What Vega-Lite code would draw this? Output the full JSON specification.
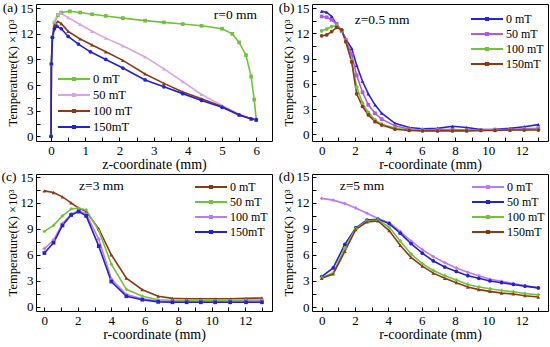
{
  "$schema": "https://vega.github.io/schema/vega-lite/v6.json",
  "padding": {"left": 1, "top": 0, "right": 0, "bottom": 0},
  "background": "white",
  "config": {
    "font": "Liberation Serif",
    "view": {"stroke": "black", "strokeWidth": 1},
    "axis": {"labelFont": "Liberation Serif", "titleFont": "Liberation Serif", "labelColor": "black", "titleColor": "black", "tickColor": "black", "grid": false, "domain": false, "tickSize": -4, "labelFontSize": 13, "titleFontWeight": "normal", "labelFontWeight": "normal"},
    "axisX": {"labelPadding": 7, "titlePadding": 0, "titleFontSize": 14, "labelFlush": false},
    "axisY": {"labelPadding": 7, "titlePadding": 1, "titleFontSize": 12.5, "labelFlush": false},
    "legend": {"labelFont": "Liberation Serif", "labelColor": "black"},
    "point": {"filled": true, "size": 14, "opacity": 1, "strokeWidth": 0}
  },
  "datasets": {
    "a": [
      {"x":0,"y":0,"B":"0 mT"},{"x":0.01,"y":8.5,"B":"0 mT"},{"x":0.04,"y":11.6,"B":"0 mT"},{"x":0.1,"y":13.3,"B":"0 mT"},{"x":0.2,"y":14.2,"B":"0 mT"},{"x":0.3,"y":14.5,"B":"0 mT"},{"x":0.55,"y":14.65,"B":"0 mT"},{"x":0.85,"y":14.5,"B":"0 mT"},{"x":1.2,"y":14.3,"B":"0 mT"},{"x":1.6,"y":14.1,"B":"0 mT"},{"x":2.1,"y":13.85,"B":"0 mT"},{"x":2.75,"y":13.55,"B":"0 mT"},{"x":3.3,"y":13.35,"B":"0 mT"},{"x":3.85,"y":13.15,"B":"0 mT"},{"x":4.4,"y":12.95,"B":"0 mT"},{"x":5.0,"y":12.6,"B":"0 mT"},{"x":5.3,"y":12.0,"B":"0 mT"},{"x":5.5,"y":11.0,"B":"0 mT"},{"x":5.7,"y":9.5,"B":"0 mT"},{"x":5.85,"y":7.0,"B":"0 mT"},{"x":5.94,"y":4.3,"B":"0 mT"},{"x":6.0,"y":1.95,"B":"0 mT"},
      {"x":0,"y":0,"B":"50 mT"},{"x":0.01,"y":8.5,"B":"50 mT"},{"x":0.04,"y":11.6,"B":"50 mT"},{"x":0.1,"y":13.5,"B":"50 mT"},{"x":0.2,"y":14.3,"B":"50 mT"},{"x":0.28,"y":14.45,"B":"50 mT"},{"x":0.5,"y":13.9,"B":"50 mT"},{"x":0.85,"y":13.1,"B":"50 mT"},{"x":1.2,"y":12.3,"B":"50 mT"},{"x":1.6,"y":11.5,"B":"50 mT"},{"x":2.1,"y":10.6,"B":"50 mT"},{"x":2.75,"y":9.3,"B":"50 mT"},{"x":3.3,"y":7.9,"B":"50 mT"},{"x":3.85,"y":6.4,"B":"50 mT"},{"x":4.4,"y":4.9,"B":"50 mT"},{"x":5.0,"y":3.6,"B":"50 mT"},{"x":5.5,"y":2.6,"B":"50 mT"},{"x":5.85,"y":2.05,"B":"50 mT"},{"x":6.0,"y":1.9,"B":"50 mT"},
      {"x":0,"y":0,"B":"100 mT"},{"x":0.01,"y":8.5,"B":"100 mT"},{"x":0.04,"y":11.6,"B":"100 mT"},{"x":0.1,"y":13.0,"B":"100 mT"},{"x":0.2,"y":13.45,"B":"100 mT"},{"x":0.3,"y":13.2,"B":"100 mT"},{"x":0.5,"y":12.3,"B":"100 mT"},{"x":0.85,"y":11.4,"B":"100 mT"},{"x":1.2,"y":10.7,"B":"100 mT"},{"x":1.6,"y":9.9,"B":"100 mT"},{"x":2.1,"y":8.9,"B":"100 mT"},{"x":2.75,"y":7.3,"B":"100 mT"},{"x":3.3,"y":6.2,"B":"100 mT"},{"x":3.85,"y":5.2,"B":"100 mT"},{"x":4.4,"y":4.4,"B":"100 mT"},{"x":5.0,"y":3.5,"B":"100 mT"},{"x":5.5,"y":2.5,"B":"100 mT"},{"x":5.85,"y":2.05,"B":"100 mT"},{"x":6.0,"y":1.9,"B":"100 mT"},
      {"x":0,"y":0,"B":"150mT"},{"x":0.01,"y":8.5,"B":"150mT"},{"x":0.04,"y":11.6,"B":"150mT"},{"x":0.1,"y":12.6,"B":"150mT"},{"x":0.17,"y":12.9,"B":"150mT"},{"x":0.3,"y":12.6,"B":"150mT"},{"x":0.5,"y":11.7,"B":"150mT"},{"x":0.8,"y":10.8,"B":"150mT"},{"x":1.15,"y":9.9,"B":"150mT"},{"x":1.6,"y":9.0,"B":"150mT"},{"x":2.1,"y":8.0,"B":"150mT"},{"x":2.75,"y":6.6,"B":"150mT"},{"x":3.3,"y":5.8,"B":"150mT"},{"x":3.85,"y":5.0,"B":"150mT"},{"x":4.4,"y":4.2,"B":"150mT"},{"x":5.0,"y":3.4,"B":"150mT"},{"x":5.5,"y":2.5,"B":"150mT"},{"x":5.85,"y":2.05,"B":"150mT"},{"x":6.0,"y":1.95,"B":"150mT"}
    ],
    "b": [
      {"x":0,"y":14.6,"B":"0 mT"},{"x":0.3,"y":14.5,"B":"0 mT"},{"x":0.6,"y":14.0,"B":"0 mT"},{"x":0.9,"y":13.0,"B":"0 mT"},{"x":1.2,"y":12.3,"B":"0 mT"},{"x":1.45,"y":11.3,"B":"0 mT"},{"x":1.8,"y":10.2,"B":"0 mT"},{"x":2.1,"y":8.2,"B":"0 mT"},{"x":2.45,"y":6.3,"B":"0 mT"},{"x":2.8,"y":4.8,"B":"0 mT"},{"x":3.2,"y":3.5,"B":"0 mT"},{"x":3.6,"y":2.5,"B":"0 mT"},{"x":4.4,"y":1.3,"B":"0 mT"},{"x":5.25,"y":0.8,"B":"0 mT"},{"x":6.05,"y":0.65,"B":"0 mT"},{"x":6.95,"y":0.7,"B":"0 mT"},{"x":7.85,"y":0.95,"B":"0 mT"},{"x":8.7,"y":0.8,"B":"0 mT"},{"x":9.55,"y":0.55,"B":"0 mT"},{"x":10.4,"y":0.6,"B":"0 mT"},{"x":11.3,"y":0.7,"B":"0 mT"},{"x":12.15,"y":0.9,"B":"0 mT"},{"x":13.0,"y":1.15,"B":"0 mT"},
      {"x":0,"y":14.0,"B":"50 mT"},{"x":0.3,"y":13.9,"B":"50 mT"},{"x":0.6,"y":13.6,"B":"50 mT"},{"x":0.9,"y":13.1,"B":"50 mT"},{"x":1.2,"y":12.3,"B":"50 mT"},{"x":1.45,"y":11.2,"B":"50 mT"},{"x":1.8,"y":9.5,"B":"50 mT"},{"x":2.1,"y":7.0,"B":"50 mT"},{"x":2.45,"y":5.0,"B":"50 mT"},{"x":2.8,"y":3.5,"B":"50 mT"},{"x":3.2,"y":2.5,"B":"50 mT"},{"x":3.6,"y":1.8,"B":"50 mT"},{"x":4.4,"y":1.0,"B":"50 mT"},{"x":5.25,"y":0.6,"B":"50 mT"},{"x":6.05,"y":0.5,"B":"50 mT"},{"x":6.95,"y":0.55,"B":"50 mT"},{"x":7.85,"y":0.55,"B":"50 mT"},{"x":8.7,"y":0.5,"B":"50 mT"},{"x":9.55,"y":0.5,"B":"50 mT"},{"x":10.4,"y":0.55,"B":"50 mT"},{"x":11.3,"y":0.55,"B":"50 mT"},{"x":12.15,"y":0.65,"B":"50 mT"},{"x":13.0,"y":0.7,"B":"50 mT"},
      {"x":0,"y":12.3,"B":"100 mT"},{"x":0.3,"y":12.5,"B":"100 mT"},{"x":0.6,"y":12.8,"B":"100 mT"},{"x":0.9,"y":12.9,"B":"100 mT"},{"x":1.2,"y":12.3,"B":"100 mT"},{"x":1.45,"y":11.0,"B":"100 mT"},{"x":1.8,"y":8.8,"B":"100 mT"},{"x":2.1,"y":5.6,"B":"100 mT"},{"x":2.45,"y":3.7,"B":"100 mT"},{"x":2.8,"y":2.6,"B":"100 mT"},{"x":3.2,"y":1.7,"B":"100 mT"},{"x":3.6,"y":1.2,"B":"100 mT"},{"x":4.4,"y":0.75,"B":"100 mT"},{"x":5.25,"y":0.5,"B":"100 mT"},{"x":6.05,"y":0.45,"B":"100 mT"},{"x":6.95,"y":0.45,"B":"100 mT"},{"x":7.85,"y":0.45,"B":"100 mT"},{"x":8.7,"y":0.45,"B":"100 mT"},{"x":9.55,"y":0.45,"B":"100 mT"},{"x":10.4,"y":0.5,"B":"100 mT"},{"x":11.3,"y":0.5,"B":"100 mT"},{"x":12.15,"y":0.55,"B":"100 mT"},{"x":13.0,"y":0.6,"B":"100 mT"},
      {"x":0,"y":11.7,"B":"150mT"},{"x":0.3,"y":11.8,"B":"150mT"},{"x":0.6,"y":12.2,"B":"150mT"},{"x":0.9,"y":12.7,"B":"150mT"},{"x":1.2,"y":12.4,"B":"150mT"},{"x":1.45,"y":11.0,"B":"150mT"},{"x":1.8,"y":8.6,"B":"150mT"},{"x":2.1,"y":4.8,"B":"150mT"},{"x":2.45,"y":3.3,"B":"150mT"},{"x":2.8,"y":2.3,"B":"150mT"},{"x":3.2,"y":1.5,"B":"150mT"},{"x":3.6,"y":1.1,"B":"150mT"},{"x":4.4,"y":0.6,"B":"150mT"},{"x":5.25,"y":0.45,"B":"150mT"},{"x":6.05,"y":0.4,"B":"150mT"},{"x":6.95,"y":0.4,"B":"150mT"},{"x":7.85,"y":0.4,"B":"150mT"},{"x":8.7,"y":0.4,"B":"150mT"},{"x":9.55,"y":0.45,"B":"150mT"},{"x":10.4,"y":0.45,"B":"150mT"},{"x":11.3,"y":0.5,"B":"150mT"},{"x":12.15,"y":0.5,"B":"150mT"},{"x":13.0,"y":0.5,"B":"150mT"}
    ],
    "c": [
      {"x":0,"y":13.4,"B":"0 mT"},{"x":0.55,"y":13.2,"B":"0 mT"},{"x":1.08,"y":12.7,"B":"0 mT"},{"x":1.6,"y":12.0,"B":"0 mT"},{"x":2.05,"y":11.4,"B":"0 mT"},{"x":2.5,"y":11.0,"B":"0 mT"},{"x":3.25,"y":9.0,"B":"0 mT"},{"x":4.0,"y":6.0,"B":"0 mT"},{"x":4.9,"y":3.3,"B":"0 mT"},{"x":5.85,"y":1.95,"B":"0 mT"},{"x":6.8,"y":1.2,"B":"0 mT"},{"x":7.65,"y":0.95,"B":"0 mT"},{"x":8.5,"y":0.9,"B":"0 mT"},{"x":9.35,"y":0.9,"B":"0 mT"},{"x":10.2,"y":0.9,"B":"0 mT"},{"x":11.1,"y":0.9,"B":"0 mT"},{"x":12.05,"y":0.95,"B":"0 mT"},{"x":13.0,"y":1.0,"B":"0 mT"},
      {"x":0,"y":8.7,"B":"50 mT"},{"x":0.55,"y":9.4,"B":"50 mT"},{"x":1.08,"y":10.5,"B":"50 mT"},{"x":1.6,"y":11.3,"B":"50 mT"},{"x":2.05,"y":11.4,"B":"50 mT"},{"x":2.5,"y":11.2,"B":"50 mT"},{"x":3.25,"y":8.8,"B":"50 mT"},{"x":4.0,"y":4.9,"B":"50 mT"},{"x":4.9,"y":2.0,"B":"50 mT"},{"x":5.85,"y":1.2,"B":"50 mT"},{"x":6.8,"y":0.8,"B":"50 mT"},{"x":7.65,"y":0.7,"B":"50 mT"},{"x":8.5,"y":0.7,"B":"50 mT"},{"x":9.35,"y":0.7,"B":"50 mT"},{"x":10.2,"y":0.7,"B":"50 mT"},{"x":11.1,"y":0.7,"B":"50 mT"},{"x":12.05,"y":0.75,"B":"50 mT"},{"x":13.0,"y":0.75,"B":"50 mT"},
      {"x":0,"y":6.7,"B":"100 mT"},{"x":0.55,"y":7.7,"B":"100 mT"},{"x":1.08,"y":9.6,"B":"100 mT"},{"x":1.6,"y":10.7,"B":"100 mT"},{"x":2.05,"y":11.1,"B":"100 mT"},{"x":2.5,"y":10.7,"B":"100 mT"},{"x":3.25,"y":7.8,"B":"100 mT"},{"x":4.0,"y":3.2,"B":"100 mT"},{"x":4.9,"y":1.4,"B":"100 mT"},{"x":5.85,"y":0.9,"B":"100 mT"},{"x":6.8,"y":0.65,"B":"100 mT"},{"x":7.65,"y":0.6,"B":"100 mT"},{"x":8.5,"y":0.55,"B":"100 mT"},{"x":9.35,"y":0.55,"B":"100 mT"},{"x":10.2,"y":0.55,"B":"100 mT"},{"x":11.1,"y":0.55,"B":"100 mT"},{"x":12.05,"y":0.6,"B":"100 mT"},{"x":13.0,"y":0.6,"B":"100 mT"},
      {"x":0,"y":6.2,"B":"150mT"},{"x":0.55,"y":7.4,"B":"150mT"},{"x":1.08,"y":9.4,"B":"150mT"},{"x":1.6,"y":10.6,"B":"150mT"},{"x":2.05,"y":11.0,"B":"150mT"},{"x":2.5,"y":10.5,"B":"150mT"},{"x":3.25,"y":7.0,"B":"150mT"},{"x":4.0,"y":2.9,"B":"150mT"},{"x":4.9,"y":1.2,"B":"150mT"},{"x":5.85,"y":0.8,"B":"150mT"},{"x":6.8,"y":0.55,"B":"150mT"},{"x":7.65,"y":0.5,"B":"150mT"},{"x":8.5,"y":0.5,"B":"150mT"},{"x":9.35,"y":0.5,"B":"150mT"},{"x":10.2,"y":0.5,"B":"150mT"},{"x":11.1,"y":0.5,"B":"150mT"},{"x":12.05,"y":0.5,"B":"150mT"},{"x":13.0,"y":0.5,"B":"150mT"}
    ],
    "d": [
      {"x":0,"y":12.5,"B":"0 mT"},{"x":0.69,"y":12.3,"B":"0 mT"},{"x":1.39,"y":11.9,"B":"0 mT"},{"x":2.04,"y":11.4,"B":"0 mT"},{"x":2.72,"y":10.8,"B":"0 mT"},{"x":3.38,"y":10.2,"B":"0 mT"},{"x":4.05,"y":9.7,"B":"0 mT"},{"x":4.71,"y":8.7,"B":"0 mT"},{"x":5.36,"y":7.6,"B":"0 mT"},{"x":6.04,"y":6.6,"B":"0 mT"},{"x":6.7,"y":5.8,"B":"0 mT"},{"x":7.39,"y":5.1,"B":"0 mT"},{"x":8.08,"y":4.5,"B":"0 mT"},{"x":8.77,"y":4.0,"B":"0 mT"},{"x":9.43,"y":3.6,"B":"0 mT"},{"x":10.1,"y":3.2,"B":"0 mT"},{"x":10.8,"y":2.95,"B":"0 mT"},{"x":11.5,"y":2.7,"B":"0 mT"},{"x":12.2,"y":2.45,"B":"0 mT"},{"x":13.0,"y":2.2,"B":"0 mT"},
      {"x":0,"y":3.5,"B":"50 mT"},{"x":0.69,"y":4.5,"B":"50 mT"},{"x":1.39,"y":7.2,"B":"50 mT"},{"x":2.04,"y":9.1,"B":"50 mT"},{"x":2.72,"y":10.0,"B":"50 mT"},{"x":3.38,"y":10.1,"B":"50 mT"},{"x":4.05,"y":9.6,"B":"50 mT"},{"x":4.71,"y":8.5,"B":"50 mT"},{"x":5.36,"y":7.3,"B":"50 mT"},{"x":6.04,"y":6.2,"B":"50 mT"},{"x":6.7,"y":5.3,"B":"50 mT"},{"x":7.39,"y":4.6,"B":"50 mT"},{"x":8.08,"y":4.1,"B":"50 mT"},{"x":8.77,"y":3.6,"B":"50 mT"},{"x":9.43,"y":3.3,"B":"50 mT"},{"x":10.1,"y":3.0,"B":"50 mT"},{"x":10.8,"y":2.8,"B":"50 mT"},{"x":11.5,"y":2.6,"B":"50 mT"},{"x":12.2,"y":2.4,"B":"50 mT"},{"x":13.0,"y":2.2,"B":"50 mT"},
      {"x":0,"y":3.4,"B":"100 mT"},{"x":0.69,"y":3.9,"B":"100 mT"},{"x":1.39,"y":6.8,"B":"100 mT"},{"x":2.04,"y":9.0,"B":"100 mT"},{"x":2.72,"y":9.9,"B":"100 mT"},{"x":3.38,"y":10.0,"B":"100 mT"},{"x":4.05,"y":9.2,"B":"100 mT"},{"x":4.71,"y":7.6,"B":"100 mT"},{"x":5.36,"y":6.1,"B":"100 mT"},{"x":6.04,"y":5.0,"B":"100 mT"},{"x":6.7,"y":4.2,"B":"100 mT"},{"x":7.39,"y":3.6,"B":"100 mT"},{"x":8.08,"y":3.1,"B":"100 mT"},{"x":8.77,"y":2.6,"B":"100 mT"},{"x":9.43,"y":2.3,"B":"100 mT"},{"x":10.1,"y":2.1,"B":"100 mT"},{"x":10.8,"y":1.9,"B":"100 mT"},{"x":11.5,"y":1.75,"B":"100 mT"},{"x":12.2,"y":1.55,"B":"100 mT"},{"x":13.0,"y":1.4,"B":"100 mT"},
      {"x":0,"y":3.3,"B":"150mT"},{"x":0.69,"y":3.8,"B":"150mT"},{"x":1.39,"y":6.4,"B":"150mT"},{"x":2.04,"y":8.9,"B":"150mT"},{"x":2.72,"y":9.8,"B":"150mT"},{"x":3.38,"y":9.9,"B":"150mT"},{"x":4.05,"y":8.8,"B":"150mT"},{"x":4.71,"y":7.1,"B":"150mT"},{"x":5.36,"y":5.7,"B":"150mT"},{"x":6.04,"y":4.7,"B":"150mT"},{"x":6.7,"y":3.9,"B":"150mT"},{"x":7.39,"y":3.3,"B":"150mT"},{"x":8.08,"y":2.8,"B":"150mT"},{"x":8.77,"y":2.3,"B":"150mT"},{"x":9.43,"y":2.0,"B":"150mT"},{"x":10.1,"y":1.8,"B":"150mT"},{"x":10.8,"y":1.6,"B":"150mT"},{"x":11.5,"y":1.5,"B":"150mT"},{"x":12.2,"y":1.3,"B":"150mT"},{"x":13.0,"y":1.15,"B":"150mT"}
    ]
  },
  "spacing": -3,
  "resolve": {"scale": {"x": "independent", "y": "independent", "color": "independent"}, "legend": {"color": "independent"}},
  "vconcat": [
    {
      "spacing": 5,
      "resolve": {"scale": {"x": "independent", "y": "independent", "color": "independent"}, "legend": {"color": "independent"}},
      "hconcat": [
        {
          "width": 236, "height": 137,
          "encoding": {
            "x": {"field": "x", "type": "quantitative", "scale": {"domain": [-0.44, 6.46], "nice": false, "zero": false}, "axis": {"title": "z-coordinate (mm)", "values": [0,0.5,1,1.5,2,2.5,3,3.5,4,4.5,5,5.5,6], "labelExpr": "datum.value % 1 === 0 ? format(datum.value, 'd') : ''"}},
            "y": {"field": "y", "type": "quantitative", "scale": {"domain": [-0.55, 15.5], "nice": false, "zero": false}, "axis": {"title": "Temperature(K) ×10³", "values": [0,1.5,3,4.5,6,7.5,9,10.5,12,13.5,15], "labelExpr": "datum.value % 3 === 0 ? format(datum.value, 'd') : ''"}}
          },
          "layer": [
            {"data": {"name": "a"}, "mark": {"type": "line", "strokeWidth": 1.6},
             "encoding": {"color": {"field": "B", "type": "nominal", "scale": {"domain": ["0 mT","50 mT","100 mT","150mT"], "range": ["#74c23c","#d8a4e6","#8a3a16","#2222d4"]},
               "legend": {"orient": "none", "legendX": 29, "legendY": 66, "title": null, "symbolType": "M-2,0L2,0M-0.15,-0.15L0.15,-0.15L0.15,0.15L-0.15,0.15Z", "symbolSize": 256, "symbolStrokeWidth": 1.8, "labelFontSize": 12.5, "labelOffset": 10, "rowPadding": 0, "padding": 0}}}},
            {"data": {"name": "a"}, "transform": [{"filter": "datum.B === '0 mT'"}], "mark": {"type": "point", "shape": "square", "color": "#74c23c"}},
            {"data": {"name": "a"}, "transform": [{"filter": "datum.B === '50 mT'"}], "mark": {"type": "point", "shape": "triangle-up", "color": "#d8a4e6"}},
            {"data": {"name": "a"}, "transform": [{"filter": "datum.B === '100 mT'"}], "mark": {"type": "point", "shape": "triangle-up", "color": "#8a3a16"}},
            {"data": {"name": "a"}, "transform": [{"filter": "datum.B === '150mT'"}], "mark": {"type": "point", "shape": "circle", "color": "#2222d4"}},
            {"data": {"values": [{"x": -1.19, "y": 15, "t": "(a)"}, {"x": 5.39, "y": 14.2, "t": "r=0 mm"}]},
             "mark": {"type": "text", "fontSize": 13.5, "font": "Liberation Serif", "align": "center", "baseline": "middle", "color": "black"},
             "encoding": {"text": {"field": "t"}}}
          ]
        },
        {
          "width": 236, "height": 137,
          "encoding": {
            "x": {"field": "x", "type": "quantitative", "scale": {"domain": [-0.58, 13.58], "nice": false, "zero": false}, "axis": {"title": "r-coordinate (mm)", "values": [0,1,2,3,4,5,6,7,8,9,10,11,12,13], "labelExpr": "datum.value % 2 === 0 ? format(datum.value, 'd') : ''"}},
            "y": {"field": "y", "type": "quantitative", "scale": {"domain": [-0.8, 15.48], "nice": false, "zero": false}, "axis": {"title": "Temperature(K) ×10³", "values": [0,1.5,3,4.5,6,7.5,9,10.5,12,13.5,15], "labelExpr": "datum.value % 3 === 0 ? format(datum.value, 'd') : ''"}}
          },
          "layer": [
            {"data": {"name": "b"}, "mark": {"type": "line", "strokeWidth": 1.6},
             "encoding": {"color": {"field": "B", "type": "nominal", "scale": {"domain": ["0 mT","50 mT","100 mT","150mT"], "range": ["#2424dc","#b257ee","#74c23c","#8a3a16"]},
               "legend": {"orient": "none", "legendX": 166, "legendY": 6, "title": null, "symbolType": "M-2,0L2,0M-0.15,-0.15L0.15,-0.15L0.15,0.15L-0.15,0.15Z", "symbolSize": 256, "symbolStrokeWidth": 1.8, "labelFontSize": 12, "labelOffset": 10, "rowPadding": 0, "padding": 0}}}},
            {"data": {"name": "b"}, "transform": [{"filter": "datum.B === '0 mT'"}], "mark": {"type": "point", "shape": "triangle-up", "color": "#2424dc"}},
            {"data": {"name": "b"}, "transform": [{"filter": "datum.B === '50 mT'"}], "mark": {"type": "point", "shape": "square", "color": "#b257ee"}},
            {"data": {"name": "b"}, "transform": [{"filter": "datum.B === '100 mT'"}], "mark": {"type": "point", "shape": "circle", "color": "#74c23c"}},
            {"data": {"name": "b"}, "transform": [{"filter": "datum.B === '150mT'"}], "mark": {"type": "point", "shape": "circle", "color": "#8a3a16"}},
            {"data": {"values": [{"x": -2.1, "y": 15, "t": "(b)"}, {"x": 3.63, "y": 13.58, "t": "z=0.5 mm"}]},
             "mark": {"type": "text", "fontSize": 13.5, "font": "Liberation Serif", "align": "center", "baseline": "middle", "color": "black"},
             "encoding": {"text": {"field": "t"}}}
          ]
        }
      ]
    },
    {
      "spacing": 5,
      "resolve": {"scale": {"x": "independent", "y": "independent", "color": "independent"}, "legend": {"color": "independent"}},
      "hconcat": [
        {
          "width": 236, "height": 137,
          "encoding": {
            "x": {"field": "x", "type": "quantitative", "scale": {"domain": [-0.5, 13.6], "nice": false, "zero": false}, "axis": {"title": "r-coordinate (mm)", "values": [0,1,2,3,4,5,6,7,8,9,10,11,12,13], "labelExpr": "datum.value % 2 === 0 ? format(datum.value, 'd') : ''"}},
            "y": {"field": "y", "type": "quantitative", "scale": {"domain": [-0.51, 15.35], "nice": false, "zero": false}, "axis": {"title": "Temperature(K) ×10³", "values": [0,1.5,3,4.5,6,7.5,9,10.5,12,13.5,15], "labelExpr": "datum.value % 3 === 0 ? format(datum.value, 'd') : ''"}}
          },
          "layer": [
            {"data": {"name": "c"}, "mark": {"type": "line", "strokeWidth": 1.6},
             "encoding": {"color": {"field": "B", "type": "nominal", "scale": {"domain": ["0 mT","50 mT","100 mT","150mT"], "range": ["#8a3a16","#74c23c","#c07af0","#2222d4"]},
               "legend": {"orient": "none", "legendX": 166, "legendY": 4, "title": null, "symbolType": "M-2,0L2,0M-0.15,-0.15L0.15,-0.15L0.15,0.15L-0.15,0.15Z", "symbolSize": 256, "symbolStrokeWidth": 1.8, "labelFontSize": 12, "labelOffset": 10, "rowPadding": 0, "padding": 0}}}},
            {"data": {"name": "c"}, "transform": [{"filter": "datum.B === '0 mT'"}], "mark": {"type": "point", "shape": "triangle-up", "color": "#8a3a16"}},
            {"data": {"name": "c"}, "transform": [{"filter": "datum.B === '50 mT'"}], "mark": {"type": "point", "shape": "diamond", "color": "#74c23c"}},
            {"data": {"name": "c"}, "transform": [{"filter": "datum.B === '100 mT'"}], "mark": {"type": "point", "shape": "cross", "color": "#c07af0"}},
            {"data": {"name": "c"}, "transform": [{"filter": "datum.B === '150mT'"}], "mark": {"type": "point", "shape": "square", "color": "#2222d4"}},
            {"data": {"values": [{"x": -2.11, "y": 15, "t": "(c)"}, {"x": 3.41, "y": 13.96, "t": "z=3 mm"}]},
             "mark": {"type": "text", "fontSize": 13.5, "font": "Liberation Serif", "align": "center", "baseline": "middle", "color": "black"},
             "encoding": {"text": {"field": "t"}}}
          ]
        },
        {
          "width": 236, "height": 137,
          "encoding": {
            "x": {"field": "x", "type": "quantitative", "scale": {"domain": [-0.58, 13.58], "nice": false, "zero": false}, "axis": {"title": "r-coordinate (mm)", "values": [0,1,2,3,4,5,6,7,8,9,10,11,12,13], "labelExpr": "datum.value % 2 === 0 ? format(datum.value, 'd') : ''"}},
            "y": {"field": "y", "type": "quantitative", "scale": {"domain": [-0.46, 15.31], "nice": false, "zero": false}, "axis": {"title": "Temperature(K) ×10³", "values": [0,1.5,3,4.5,6,7.5,9,10.5,12,13.5,15], "labelExpr": "datum.value % 3 === 0 ? format(datum.value, 'd') : ''"}}
          },
          "layer": [
            {"data": {"name": "d"}, "mark": {"type": "line", "strokeWidth": 1.6},
             "encoding": {"color": {"field": "B", "type": "nominal", "scale": {"domain": ["0 mT","50 mT","100 mT","150mT"], "range": ["#c07af0","#2222d4","#74c23c","#8a3a16"]},
               "legend": {"orient": "none", "legendX": 167, "legendY": 4, "title": null, "symbolType": "M-2,0L2,0M-0.15,-0.15L0.15,-0.15L0.15,0.15L-0.15,0.15Z", "symbolSize": 256, "symbolStrokeWidth": 1.8, "labelFontSize": 12, "labelOffset": 10, "rowPadding": 0, "padding": 0}}}},
            {"data": {"name": "d"}, "transform": [{"filter": "datum.B === '0 mT'"}], "mark": {"type": "point", "shape": "diamond", "color": "#c07af0"}},
            {"data": {"name": "d"}, "transform": [{"filter": "datum.B === '50 mT'"}], "mark": {"type": "point", "shape": "circle", "color": "#2222d4"}},
            {"data": {"name": "d"}, "transform": [{"filter": "datum.B === '100 mT'"}], "mark": {"type": "point", "shape": "cross", "color": "#74c23c"}},
            {"data": {"name": "d"}, "transform": [{"filter": "datum.B === '150mT'"}], "mark": {"type": "point", "shape": "triangle-up", "color": "#8a3a16"}},
            {"data": {"values": [{"x": -2.1, "y": 15, "t": "(d)"}, {"x": 2.42, "y": 13.93, "t": "z=5 mm"}]},
             "mark": {"type": "text", "fontSize": 13.5, "font": "Liberation Serif", "align": "center", "baseline": "middle", "color": "black"},
             "encoding": {"text": {"field": "t"}}}
          ]
        }
      ]
    }
  ]
}
